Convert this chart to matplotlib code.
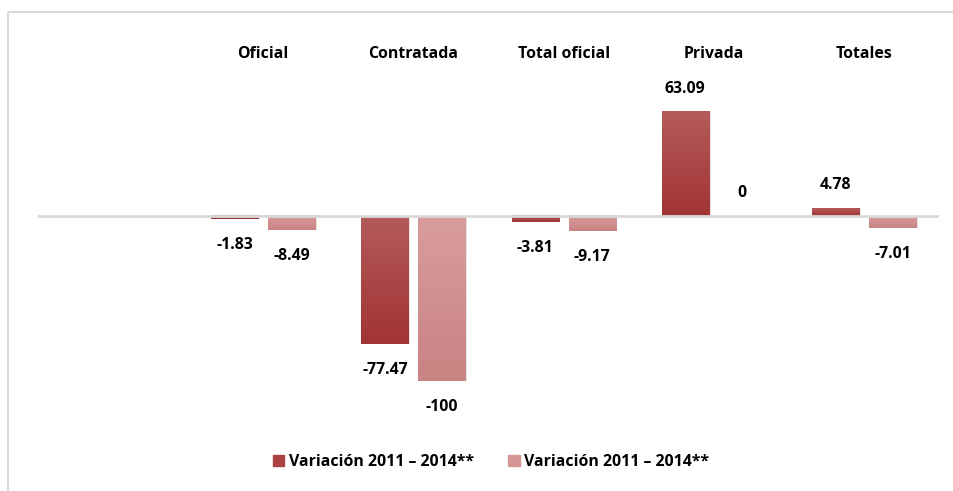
import numpy as np
import matplotlib.pyplot as plt
from matplotlib.lines import Line2D
from matplotlib.colors import LinearSegmentedColormap

# categories (first slot is empty in the original chart)
categories = ['', 'Oficial', 'Contratada', 'Total oficial', 'Privada', 'Totales']
var_a = [np.nan, -1.83, -77.47, -3.81, 63.09, 4.78]
var_b = [np.nan, -8.49, -100, -9.17, 0, -7.01]
labels_a = ['', '-1.83', '-77.47', '-3.81', '63.09', '4.78']
labels_b = ['', '-8.49', '-100', '-9.17', '0', '-7.01']
series_names = ['Variación 2011 – 2014**', 'Variación 2011 – 2014**']

dark = '#AC4343'
light = '#D49595'
dark_grad = ('#B45A5A', '#A23434')
light_grad = ('#D89C9C', '#C98383')

plt.rcParams['font.family'] = ['Open Sans', 'DejaVu Sans']
plt.rcParams['font.weight'] = 'bold'
fs = 11.4

W, H = 954, 491
fig = plt.figure(figsize=(W / 100, H / 100), dpi=100)

# axes placed in pixel terms
left, right, top, bottom = 38, 939, 65, 430
ax = fig.add_axes([left / W, 1 - bottom / H, (right - left) / W, (bottom - top) / H])
zero_px = 216
scale = 1.65
ylim = (-(bottom - zero_px) / scale, (zero_px - top) / scale)
xlim = (-0.5, len(categories) - 0.5)

x = np.arange(len(categories))
bw = 0.313
off = 0.19
grad = np.linspace(0, 1, 64).reshape(-1, 1)

def draw(vals, labs, pos, grad_cols):
    cmap = LinearSegmentedColormap.from_list('g', list(grad_cols))
    for xi, v, lab in zip(pos, vals, labs):
        if np.isnan(v):
            continue
        # soft shadow
        ax.bar(xi + 0.012, v, bw, color='#000000', alpha=0.10, zorder=1, linewidth=0)
        y0, y1 = min(0, v), max(0, v)
        if y1 > y0:
            ax.imshow(grad, extent=[xi - bw / 2, xi + bw / 2, y0, y1], origin='upper',
                      aspect='auto', cmap=cmap, zorder=2, interpolation='bilinear')
        if v > 0 or lab == '0':
            ax.annotate(lab, (xi, v), xytext=(0, 11), textcoords='offset points',
                        ha='center', va='bottom', fontsize=fs, fontweight='bold')
        else:
            ax.annotate(lab, (xi, v), xytext=(0, -13), textcoords='offset points',
                        ha='center', va='top', fontsize=fs, fontweight='bold')

draw(var_a, labels_a, x - off, dark_grad)
draw(var_b, labels_b, x + off, light_grad)
ax.set_xlim(*xlim)
ax.set_ylim(*ylim)

ax.axhline(0, color='#D9D9D9', linewidth=2, zorder=3)

ax.xaxis.tick_top()
ax.set_xticks(x)
ax.set_xticklabels(categories, fontsize=fs, fontweight='bold')
ax.tick_params(axis='x', length=0, pad=2)
ax.set_yticks([])
for s in ax.spines.values():
    s.set_visible(False)
ax.patch.set_alpha(0)

# outer chart frame (cropped on right and bottom)
fig.add_artist(Line2D([8 / W, 8 / W, 1.0], [0.0, 1 - 12 / H, 1 - 12 / H],
                      color='#D9D9D9', linewidth=1.5, transform=fig.transFigure))

handles = [plt.Rectangle((0, 0), 1, 1, color=dark),
           plt.Rectangle((0, 0), 1, 1, color=light)]
fig.legend(handles, series_names, loc='center', bbox_to_anchor=(491 / W, 1 - 462 / H),
           ncol=2, frameon=False, handlelength=0.7, handleheight=0.7,
           handletextpad=0.3, columnspacing=2.2,
           prop={'size': fs, 'weight': 'bold'})

fig.savefig('out.png', dpi=100)
